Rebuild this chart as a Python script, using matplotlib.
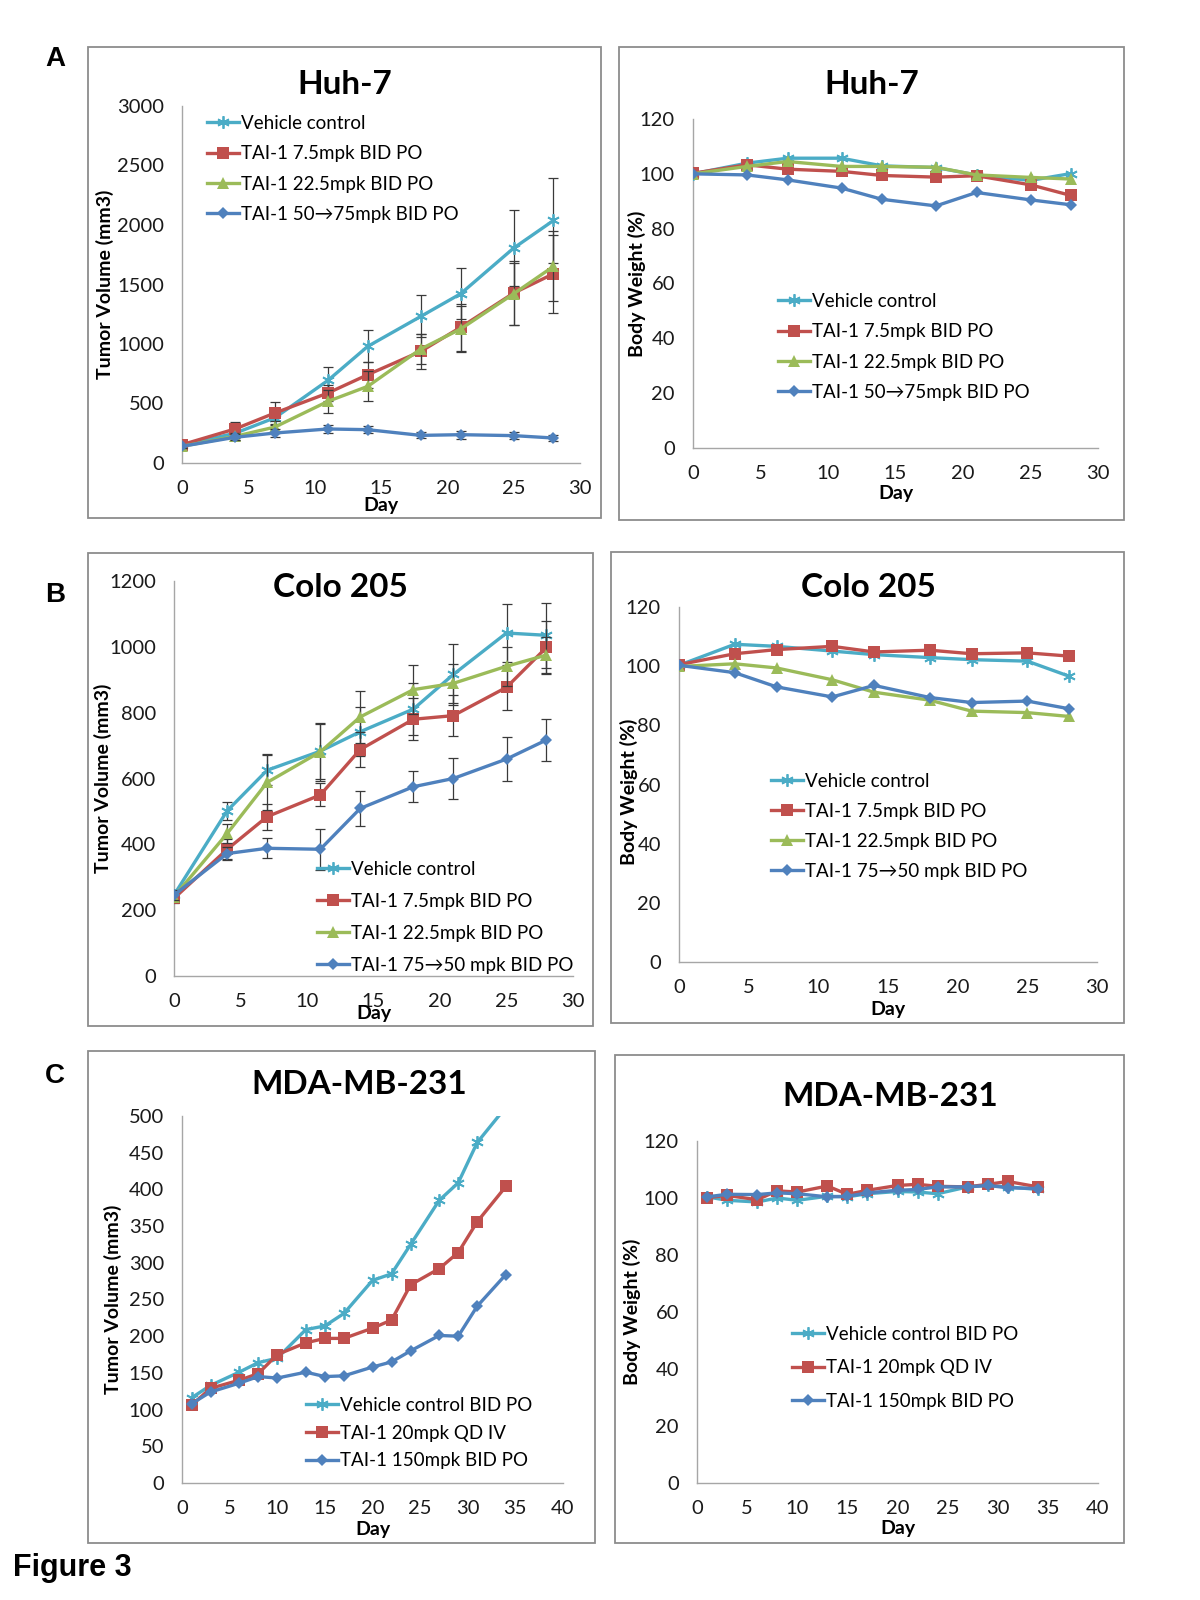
import matplotlib
matplotlib.use("Agg")
import matplotlib.pyplot as plt
from matplotlib.patches import Rectangle

plt.rcParams['font.family'] = ['Lato', 'DejaVu Sans']

# ── data ──────────────────────────────────────────────────────────────────────
days_ab = [0, 4, 7, 11, 14, 18, 21, 25, 28]
days_c = [1, 3, 6, 8, 10, 13, 15, 17, 20, 22, 24, 27, 29, 31, 34]

labels_a = ["Vehicle control", "TAI-1 7.5mpk BID PO", "TAI-1 22.5mpk BID PO", "TAI-1 50\u219275mpk BID PO"]
labels_b = ["Vehicle control", "TAI-1 7.5mpk BID PO", "TAI-1 22.5mpk BID PO", "TAI-1 75\u219250 mpk BID PO"]
labels_c = ["Vehicle control BID PO", "TAI-1 20mpk QD IV", "TAI-1 150mpk BID PO"]

# Huh-7 tumor volume (mm3) and SEM
huh_tv_veh = [150, 250, 380, 694, 980, 1232, 1422, 1806, 2038]
huh_tv_veh_err = [15, 40, 60, 110, 134, 176, 213, 322, 361]
huh_tv_7p5 = [154, 286, 420, 588, 742, 938, 1140, 1428, 1590]
huh_tv_7p5_err = [15, 60, 90, 70, 110, 150, 200, 270, 330]
huh_tv_22p5 = [140, 224, 302, 518, 644, 958, 1126, 1422, 1652]
huh_tv_22p5_err = [15, 30, 50, 98, 126, 130, 190, 260, 294]
huh_tv_50 = [140, 216, 252, 286, 280, 232, 238, 230, 210]
huh_tv_50_err = [15, 25, 30, 30, 30, 25, 35, 30, 25]

# Huh-7 body weight (%)
huh_bw_veh = [100, 103.9, 105.7, 105.7, 102.9, 102.3, 99.6, 97.6, 100.1]
huh_bw_7p5 = [100.2, 103.3, 101.7, 100.9, 99.4, 98.8, 99.3, 96.0, 92.1]
huh_bw_22p5 = [100, 102.7, 104.5, 102.7, 102.7, 102.4, 99.6, 98.7, 98.1]
huh_bw_50 = [100, 99.6, 97.8, 94.8, 90.7, 88.3, 93.2, 90.5, 88.7]

# Colo 205 tumor volume (mm3) and SEM
colo_tv_veh = [246, 502, 625, 683, 742, 811, 916, 1042, 1035]
colo_tv_veh_err = [15, 27, 45, 84, 75, 80, 92, 89, 98]
colo_tv_7p5 = [236, 385, 484, 550, 688, 780, 791, 877, 998]
colo_tv_7p5_err = [15, 30, 40, 35, 53, 64, 63, 69, 80]
colo_tv_22p5 = [241, 433, 588, 681, 787, 870, 889, 941, 975]
colo_tv_22p5_err = [15, 30, 85, 88, 80, 75, 60, 60, 55]
colo_tv_75 = [246, 372, 388, 385, 509, 575, 600, 659, 717]
colo_tv_75_err = [15, 20, 30, 62, 54, 47, 61, 66, 64]

# Colo 205 body weight (%)
colo_bw_veh = [100.3, 107.4, 106.7, 105.1, 103.9, 102.9, 102.2, 101.7, 96.6]
colo_bw_7p5 = [100.5, 104.2, 105.6, 106.7, 104.8, 105.4, 104.2, 104.5, 103.4]
colo_bw_22p5 = [99.9, 100.8, 99.4, 95.4, 91.2, 88.5, 84.8, 84.3, 83.0]
colo_bw_75 = [100.3, 97.8, 93.0, 89.6, 93.5, 89.4, 87.7, 88.2, 85.6]

# MDA-MB-231 tumor volume (mm3)
mda_tv_veh = [116, 133, 151, 164, 170, 209, 214, 231, 276, 285, 325, 385, 409, 464, 512]
mda_tv_20iv = [106, 129, 140, 149, 175, 191, 197, 197, 211, 222, 270, 292, 314, 356, 404]
mda_tv_150 = [108, 124, 136, 145, 143, 151, 145, 146, 158, 165, 180, 201, 200, 241, 284]

# MDA-MB-231 body weight (%)
mda_bw_veh = [100.4, 99.2, 98.6, 100.0, 99.2, 100.6, 100.4, 101.5, 102.3, 102.1, 101.5, 103.9, 104.4, 103.9, 103.0]
mda_bw_20iv = [100.1, 100.9, 99.4, 102.5, 102.1, 104.2, 101.3, 102.7, 104.4, 104.8, 104.1, 103.9, 104.8, 105.8, 103.9]
mda_bw_150 = [100.4, 101.3, 101.2, 101.8, 101.5, 100.4, 100.6, 101.8, 102.7, 103.0, 103.9, 103.9, 104.4, 103.6, 103.3]

# ── style ─────────────────────────────────────────────────────────────────────
VEH = "#4BACC6"; RED = "#C0504D"; GRN = "#9BBB59"; BLU = "#4F81BD"
STYLES = [dict(color=VEH, marker=(6, 2, 0), ms=9, mew=1.3),
          dict(color=RED, marker="s", ms=8.5, mew=0),
          dict(color=GRN, marker="^", ms=9, mew=0),
          dict(color=BLU, marker="D", ms=6.5, mew=0)]
STYLES_C = [STYLES[0], STYLES[1], STYLES[3]]

W, H = 1200, 1600
fig = plt.figure(figsize=(12, 16), dpi=100)


def fx(px): return px / W
def fy(py): return 1 - py / H


def frame(x0, y0, x1, y1):
    fig.patches.append(Rectangle((fx(x0), fy(y1)), fx(x1) - fx(x0), fy(y0) - fy(y1), transform=fig.transFigure,
                                 fill=False, edgecolor="#8c8c8c", lw=1.3))


def panel(box, title, tpos, days, series, errs, styles, labels, xmax, ymax, ystep, ylabel,
          ylab_x, ylab_y, xlab_y, leg_xy, leg_sp):
    l, t, r, b = box
    ax = fig.add_axes([fx(l), fy(b), fx(r) - fx(l), fy(t) - fy(b)])
    for i, (vals, st, lab) in enumerate(zip(series, styles, labels)):
        if errs is not None:
            ax.errorbar(days, vals, yerr=errs[i], fmt="none", ecolor="#3a3a3a", elinewidth=0.9, capsize=3.5,
                        capthick=0.9, zorder=2 + i)
        ax.plot(days, vals, lw=2.4, label=lab, zorder=3 + i, **st)
    ax.set_xlim(0, xmax); ax.set_ylim(0, ymax)
    ax.set_xticks(range(0, xmax + 1, 5)); ax.set_yticks(range(0, ymax + 1, ystep))
    for s in ["top", "right"]:
        ax.spines[s].set_visible(False)
    for s in ["left", "bottom"]:
        ax.spines[s].set_color("#a6a6a6"); ax.spines[s].set_linewidth(1.0)
    ax.tick_params(axis="both", length=0, labelsize=14.5, colors="#1a1a1a")
    ax.tick_params(axis="x", pad=12); ax.tick_params(axis="y", pad=13)
    ax.set_ylabel(ylabel, fontsize=14, fontweight="bold", va="center")
    ax.yaxis.set_label_coords(ylab_x, ylab_y)
    ax.set_xlabel("Day", fontsize=14, fontweight="bold", va="center")
    ax.xaxis.set_label_coords(0.5, xlab_y)
    fig.text(fx(tpos[0]), fy(tpos[1]), title, ha="center", va="center", fontsize=24, fontweight="bold")
    ax.legend(loc="upper left", bbox_to_anchor=(fx(leg_xy[0]), fy(leg_xy[1])), bbox_transform=fig.transFigure,
              frameon=False, fontsize=13.5, handlelength=1.7, handletextpad=0.12, borderpad=0, borderaxespad=0,
              labelspacing=leg_sp, numpoints=1)
    return ax


# ── A: Huh-7 ──────────────────────────────────────────────────────────────────
frame(88, 47, 601, 518)
panel((182, 106, 580, 463), "Huh-7", (345, 84), days_ab,
      [huh_tv_veh, huh_tv_7p5, huh_tv_22p5, huh_tv_50],
      [huh_tv_veh_err, huh_tv_7p5_err, huh_tv_22p5_err, huh_tv_50_err], STYLES, labels_a,
      30, 3000, 500, "Tumor Volume (mm3)", -0.193, 0.5, -0.118, (207, 115), 0.71)
frame(619, 47, 1124, 520)
panel((693, 119, 1098, 448), "Huh-7", (872, 84), days_ab,
      [huh_bw_veh, huh_bw_7p5, huh_bw_22p5, huh_bw_50], None, STYLES, labels_a,
      30, 120, 20, "Body Weight (%)", -0.138, 0.5, -0.137, (778, 293), 0.71)

# ── B: Colo 205 ───────────────────────────────────────────────────────────────
frame(88, 553, 593, 1026)
panel((174, 581, 573, 976), "Colo 205", (340, 588), days_ab,
      [colo_tv_veh, colo_tv_7p5, colo_tv_22p5, colo_tv_75],
      [colo_tv_veh_err, colo_tv_7p5_err, colo_tv_22p5_err, colo_tv_75_err], STYLES, labels_b,
      30, 1200, 200, "Tumor Volume (mm3)", -0.178, 0.5, -0.094, (317, 861), 0.8)
frame(611, 552, 1124, 1023)
panel((679, 607, 1097, 962), "Colo 205", (868, 588), days_ab,
      [colo_bw_veh, colo_bw_7p5, colo_bw_22p5, colo_bw_75], None, STYLES, labels_b,
      30, 120, 20, "Body Weight (%)", -0.12, 0.48, -0.135, (771, 773), 0.69)

# ── C: MDA-MB-231 ─────────────────────────────────────────────────────────────
frame(88, 1051, 595, 1543)
panel((182, 1116, 563, 1483), "MDA-MB-231", (359, 1085), days_c,
      [mda_tv_veh, mda_tv_20iv, mda_tv_150], None, STYLES_C, labels_c,
      40, 500, 50, "Tumor Volume (mm3)", -0.181, 0.5, -0.128, (306, 1397), 0.57)
frame(615, 1055, 1124, 1543)
panel((697, 1141, 1098, 1483), "MDA-MB-231", (890, 1097), days_c,
      [mda_bw_veh, mda_bw_20iv, mda_bw_150], None, STYLES_C, labels_c,
      40, 120, 20, "Body Weight (%)", -0.162, 0.5, -0.134, (792, 1326), 0.87)

# panel letters + caption
for lab, (px, py) in [("A", (55, 59)), ("B", (55, 595)), ("C", (55, 1076))]:
    fig.text(fx(px), fy(py), lab, ha="center", va="center", fontsize=20, fontweight="bold",
             family="Liberation Sans")
fig.text(fx(13), fy(1568), "Figure 3", ha="left", va="center", fontsize=22, fontweight="bold",
         family="Liberation Sans")

fig.savefig("out.png", dpi=100)
